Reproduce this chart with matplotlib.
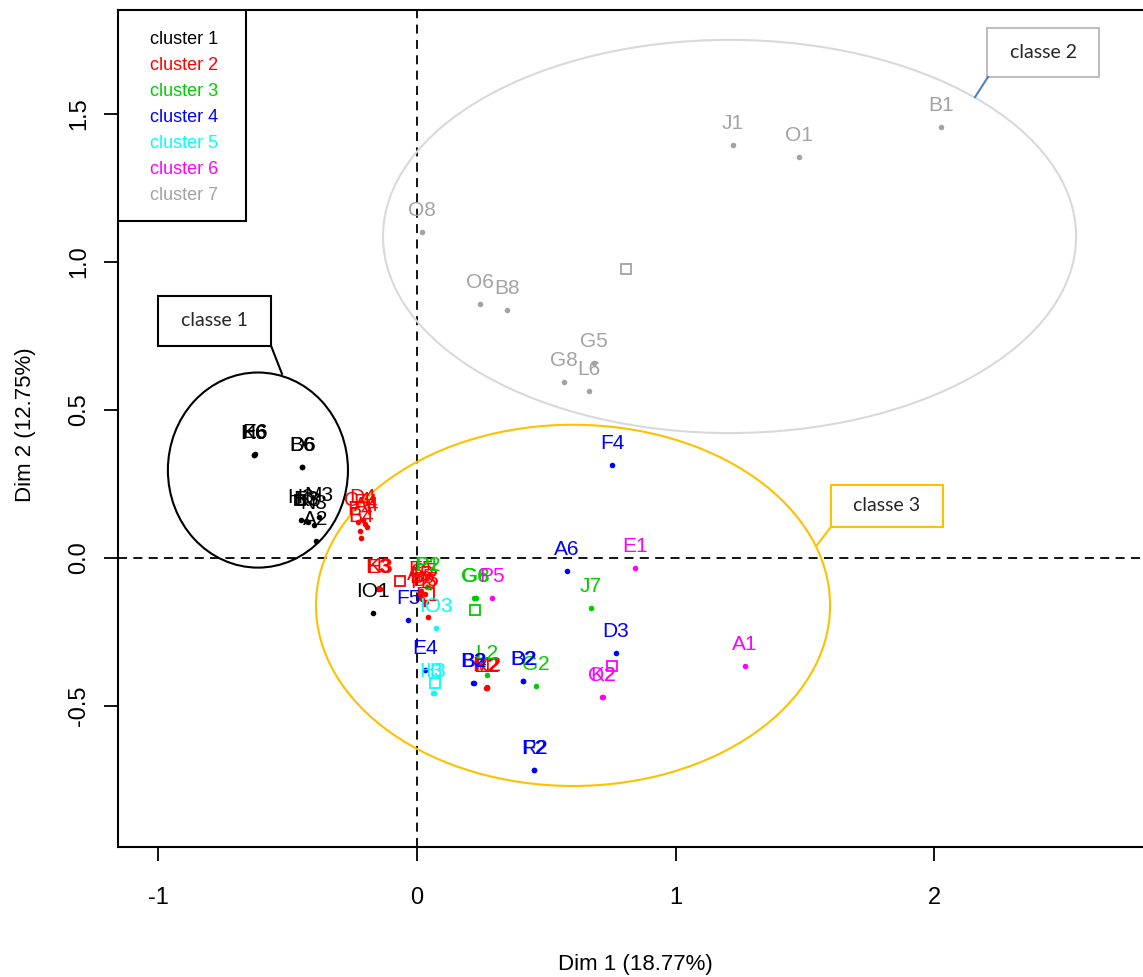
import matplotlib
matplotlib.use('Agg')
import matplotlib.pyplot as plt
from matplotlib.patches import Ellipse, Rectangle

plt.rcParams['font.family'] = ['Liberation Sans', 'DejaVu Sans']

# cluster colours (R palette 1..7)
colors = ['black', '#ff0000', '#00cd00', '#0000ff', '#00ffff', '#ff00ff', '#a3a3a3']
legend_labels = ['cluster 1', 'cluster 2', 'cluster 3', 'cluster 4',
                 'cluster 5', 'cluster 6', 'cluster 7']

# individuals of each cluster
c1_names = ['K6', 'H6', 'E6', 'B6', 'D6', 'H3', 'K3', 'M3', 'N3', 'E3', 'A2', 'IO1']
c1_x = [-0.630, -0.630, -0.627, -0.445, -0.443, -0.45, -0.42, -0.38, -0.40, -0.43, -0.390, -0.170]
c1_y = [0.348, 0.348, 0.350, 0.307, 0.308, 0.13, 0.12, 0.14, 0.11, 0.125, 0.057, -0.186]

c2_names = ['A4', 'B4', 'C4', 'D4', 'E4', 'F4', 'E3', 'H3', 'K3',
            'A5', 'B5', 'C5', 'D5', 'E5', 'H5', 'F1', 'E2', 'K2', 'M2']
c2_x = [-0.193, -0.216, -0.23, -0.21, -0.22, -0.20, -0.151, -0.145, -0.148,
        0.01, 0.02, 0.03, 0.035, 0.015, 0.025, 0.042, 0.268, 0.272, 0.270]
c2_y = [0.105, 0.068, 0.12, 0.13, 0.09, 0.115, -0.105, -0.105, -0.10,
        -0.13, -0.14, -0.12, -0.15, -0.11, -0.155, -0.199, -0.439, -0.439, -0.437]

c3_names = ['P1', 'P2', 'G6', 'G8', 'L2', 'G2', 'J7']
c3_x = [0.039, 0.041, 0.222, 0.226, 0.270, 0.460, 0.673]
c3_y = [-0.098, -0.098, -0.135, -0.135, -0.395, -0.432, -0.169]

c4_names = ['F4', 'A6', 'D3', 'F5', 'E4', 'B3', 'B2', 'D2', 'B2', 'F2', 'R2']
c4_x = [0.754, 0.580, 0.769, -0.035, 0.031, 0.218, 0.222, 0.410, 0.408, 0.452, 0.454]
c4_y = [0.314, -0.044, -0.321, -0.209, -0.378, -0.422, -0.422, -0.416, -0.414, -0.716, -0.716]

c5_names = ['IO3', 'H3', 'I3']
c5_x = [0.073, 0.062, 0.066]
c5_y = [-0.236, -0.456, -0.456]

c6_names = ['E1', 'A1', 'P5', 'O2', 'K2']
c6_x = [0.843, 1.268, 0.290, 0.715, 0.717]
c6_y = [-0.034, -0.365, -0.135, -0.470, -0.470]

c7_names = ['B1', 'J1', 'O1', 'O8', 'O6', 'B8', 'G8', 'L6', 'G5']
c7_x = [2.026, 1.221, 1.477, 0.019, 0.244, 0.348, 0.568, 0.665, 0.684]
c7_y = [1.456, 1.395, 1.355, 1.101, 0.858, 0.838, 0.595, 0.564, 0.659]

# cluster centres (open squares), one per cluster drawn
centre_cluster = [0, 1, 2, 4, 5, 6]
centre_x = [-0.452, -0.066, 0.224, 0.070, 0.754, 0.808]
centre_y = [0.196, -0.078, -0.176, -0.422, -0.365, 0.976]

# class ellipses: centre x, centre y, width, height
classes = ['classe 1', 'classe 2', 'classe 3']
ell_cx = [-0.615, 1.208, 0.603]
ell_cy = [0.297, 1.086, -0.160]
ell_w = [0.696, 2.679, 1.987]
ell_h = [0.659, 1.328, 1.220]
ell_colors = ['black', '#d9d9d9', '#ffc000']
line_colors = ['black', '#4f81bd', '#ffc000']
box_colors = ['black', '#bfbfbf', '#ffc000']

# callout boxes (x0, y0, x1, y1) and leader lines
box_x0 = [-1.000, 2.203, 1.600]
box_y0 = [0.716, 1.625, 0.105]
box_x1 = [-0.563, 2.636, 2.033]
box_y1 = [0.885, 1.791, 0.247]
lead_x = [[-0.564, -0.522], [2.207, 2.157], [1.600, 1.546]]
lead_y = [[0.716, 0.622], [1.625, 1.557], [0.105, 0.044]]

fig = plt.figure(figsize=(11.43, 9.77), dpi=100)
ax = fig.add_axes([0.1032, 0.1331, 0.8968, 0.8567])

ax.axhline(0, color='black', lw=1.3, ls=(0, (5, 3.5)), zorder=1)
ax.axvline(0, color='black', lw=1.3, ls=(0, (5, 3.5)), zorder=1)

clusters = [(c1_names, c1_x, c1_y), (c2_names, c2_x, c2_y), (c3_names, c3_x, c3_y),
            (c4_names, c4_x, c4_y), (c5_names, c5_x, c5_y), (c6_names, c6_x, c6_y),
            (c7_names, c7_x, c7_y)]

for k, (names, xs, ys) in enumerate(clusters):
    ax.plot(xs, ys, 'o', color=colors[k], ms=4, mew=0, zorder=3)
    for n, x, y in zip(names, xs, ys):
        ax.annotate(n, (x, y), xytext=(0, 15.5), textcoords='offset points',
                    ha='center', va='center', color=colors[k], fontsize=15, zorder=4)

for k, x, y in zip(centre_cluster, centre_x, centre_y):
    ax.plot(x, y, 's', mfc='none', mec=colors[k], ms=7, mew=1.3, zorder=3)

for i in range(3):
    ax.add_patch(Ellipse((ell_cx[i], ell_cy[i]), ell_w[i], ell_h[i], fill=False,
                         ec=ell_colors[i], lw=1.5, zorder=2))
    ax.add_patch(Rectangle((box_x0[i], box_y0[i]), box_x1[i] - box_x0[i], box_y1[i] - box_y0[i],
                           fc='white', ec=box_colors[i], lw=1.5, zorder=5))
    ax.text((box_x0[i] + box_x1[i]) / 2, (box_y0[i] + box_y1[i]) / 2, classes[i],
            ha='center', va='center', fontsize=14, family=['Lato', 'DejaVu Sans'],
            color='#262626', zorder=6)
    ax.plot(lead_x[i], lead_y[i], color=line_colors[i], lw=1.5, zorder=5)

# legend box
ax.add_patch(Rectangle((0, 0.748), 0.125, 0.252, transform=ax.transAxes,
                       fc='white', ec='black', lw=1.5, zorder=5))
for i, lab in enumerate(legend_labels):
    ax.text(0.031, (847 - 40 - 26 * i) / 837, lab, transform=ax.transAxes,
            ha='left', va='center', color=colors[i], fontsize=13, zorder=6)

ax.set_xlim(-1.156, 2.806)
ax.set_ylim(-0.976, 1.851)
ax.set_xticks([-1, 0, 1, 2])
ax.set_xticklabels(['-1', '0', '1', '2'])
ax.set_yticks([-0.5, 0.0, 0.5, 1.0, 1.5])
ax.set_yticklabels(['-0.5', '0.0', '0.5', '1.0', '1.5'])
ax.tick_params(axis='both', direction='out', length=10, width=1.3, labelsize=17)
ax.tick_params(axis='x', pad=19)
ax.tick_params(axis='y', pad=10)
plt.setp(ax.get_yticklabels(), rotation=90, va='center')
for s in ['left', 'top', 'bottom']:
    ax.spines[s].set_linewidth(1.5)
ax.spines['right'].set_visible(False)

fig.text(0.5556, 0.0123, 'Dim 1 (18.77%)', ha='center', va='center', fontsize=16)
fig.text(0.0219, 0.565, 'Dim 2 (12.75%)', ha='center', va='center', fontsize=16, rotation=90)

fig.savefig('out.png', dpi=100)
